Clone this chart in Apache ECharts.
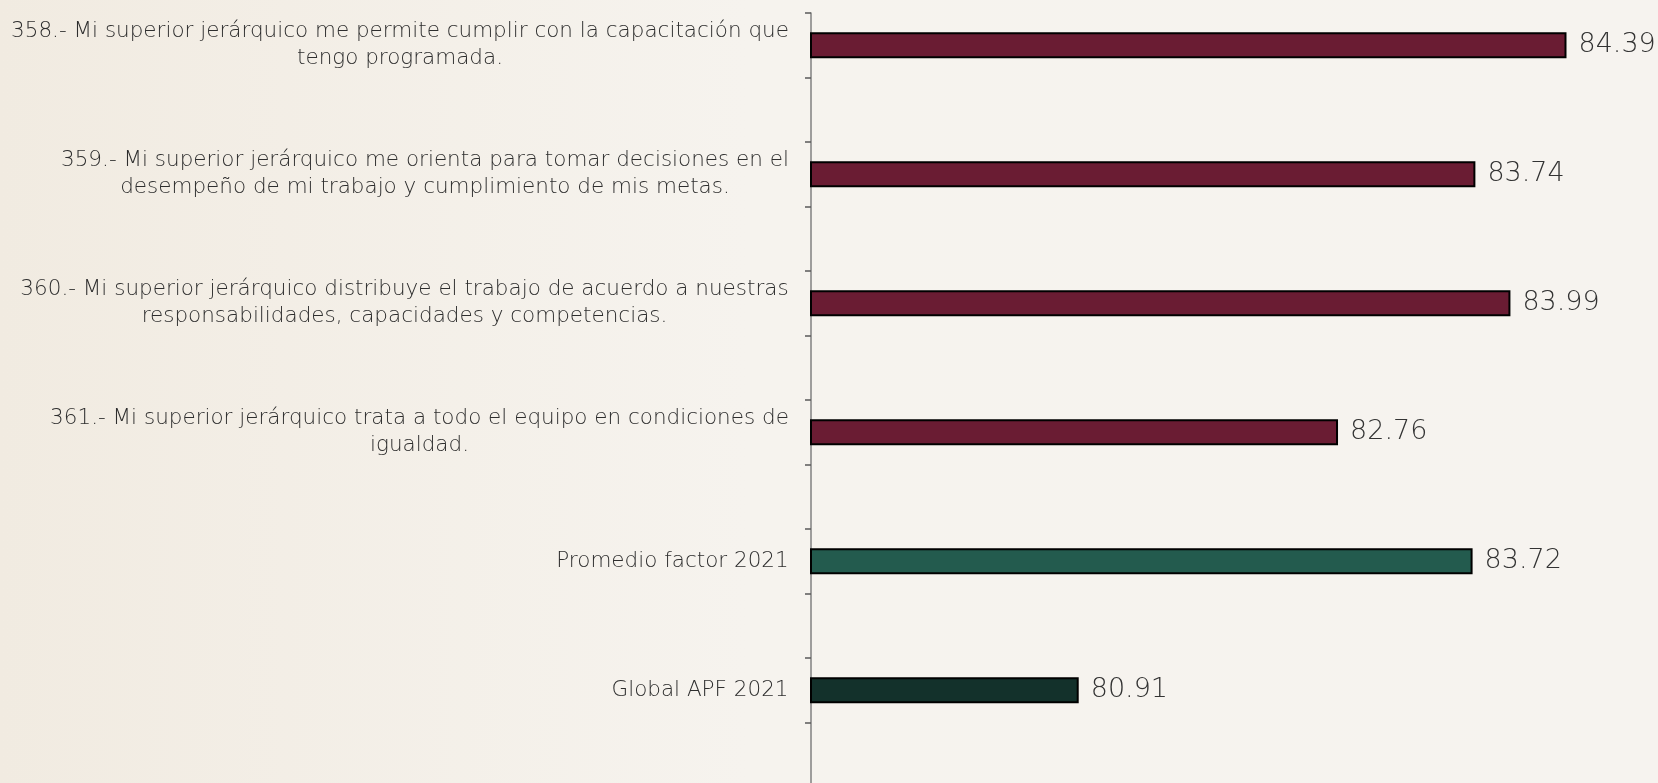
<!DOCTYPE html>
<html>
<head>
<meta charset="utf-8">
<script src="https://cdn.jsdelivr.net/npm/echarts@6/dist/echarts.min.js"></script>
<style>
  html, body { margin: 0; padding: 0; background: #f6f3ef; }
  #main { width: 1658px; height: 783px; }
</style>
</head>
<body>
<div id="main"></div>
<script>
// preguntas (con el salto de línea como en el original)
const CATEGORIES = [
    '358.- Mi superior jerárquico me permite cumplir con la capacitación que\ntengo programada.',
    '359.- Mi superior jerárquico me orienta para tomar decisiones en el\ndesempeño de mi trabajo y cumplimiento de mis metas.',
    '360.- Mi superior jerárquico distribuye el trabajo de acuerdo a nuestras\nresponsabilidades, capacidades y competencias.',
    '361.- Mi superior jerárquico trata a todo el equipo en condiciones de\nigualdad.',
    'Promedio factor 2021',
    'Global APF 2021'
];
const VALUES = [84.39, 83.74, 83.99, 82.76, 83.72, 80.91];
const BAR_COLORS = ['#6a1c33', '#6a1c33', '#6a1c33', '#6a1c33', '#235b4e', '#13312b'];

const FONT = "'DejaVu Sans', 'Open Sans', sans-serif";
const LABEL_SIZE = 21.5;

// medir el ancho de la línea más larga para centrar las líneas entre sí
const ctx = document.createElement('canvas').getContext('2d');
ctx.font = '200 ' + LABEL_SIZE + 'px ' + FONT;

const cats = [];
const data = [];
const rich = {};
CATEGORIES.forEach((text, i) => {
    const lines = text.split('\n');
    const w = Math.max(...lines.map(l => ctx.measureText(l).width));
    rich['c' + i] = {width: Math.ceil(w) + 2, align: 'center', fontSize: LABEL_SIZE, lineHeight: 27,
        fontFamily: FONT, fontWeight: 200, color: '#2e2e2e'};
    cats.push(text);
    data.push({value: VALUES[i], itemStyle: {color: BAR_COLORS[i]}});
    // hueco entre barras (categoría vacía)
    cats.push('');
    data.push('-');
});

const chart = echarts.init(document.getElementById('main'));
chart.setOption({
    backgroundColor: {
        type: 'linear', x: 0, y: 0, x2: 1, y2: 0,
        colorStops: [
            {offset: 0, color: '#f1ebe1'},
            {offset: 0.45, color: '#f6f3ee'},
            {offset: 1, color: '#f6f3ef'}
        ]
    },
    animation: false,
    grid: {left: 811, right: 6, top: 13, height: 774, outerBoundsMode: 'none', containLabel: false},
    xAxis: {
        type: 'value',
        min: 79,
        max: 85,
        show: false
    },
    yAxis: {
        type: 'category',
        inverse: true,
        data: cats,
        axisLine: {lineStyle: {color: '#808080', width: 1.5}},
        axisTick: {show: true, length: 6, lineStyle: {color: '#595959', width: 1.5}},
        axisLabel: {
            interval: 0,
            margin: 21,
            align: 'right',
            formatter: (v, idx) => {
                if (!v) return '';
                const i = CATEGORIES.indexOf(v);
                return v.split('\n').map(l => '{c' + i + '|' + l + '}').join('\n');
            },
            rich
        }
    },
    series: [{
        type: 'bar',
        data,
        barWidth: 26,
        barCategoryGap: 0,
        itemStyle: {borderColor: '#000', borderWidth: 2},
        label: {
            show: true,
            position: 'right',
            distance: 12,
            fontSize: 27,
            fontWeight: 200,
            fontFamily: FONT,
            color: '#333333',
            formatter: p => p.value.toFixed(2)
        }
    }]
});
</script>
</body>
</html>
